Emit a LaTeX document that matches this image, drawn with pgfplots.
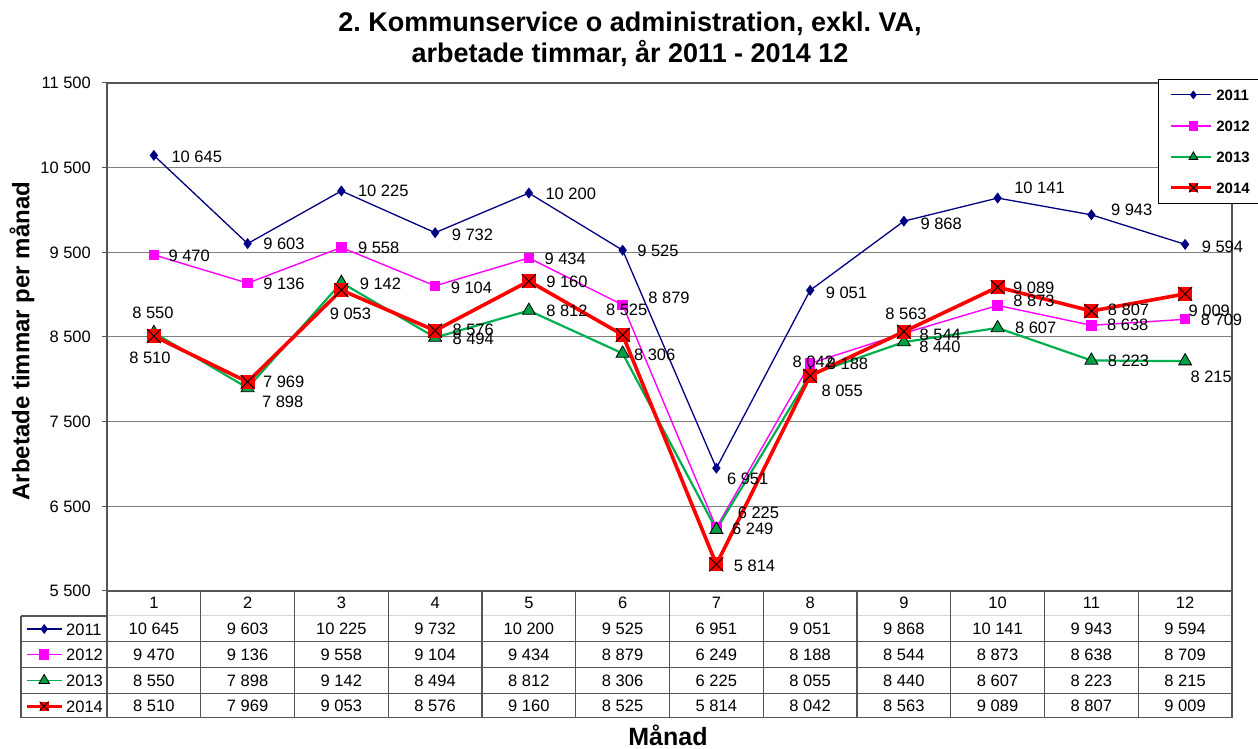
\documentclass[border=0pt]{standalone}
\usepackage{fontspec}
\setmainfont{Liberation Sans}
\usepackage{pgfplots}
\usepackage{pgfplotstable}
\pgfplotsset{compat=1.18}
\definecolor{c11}{RGB}{0,0,128}
\definecolor{c12}{RGB}{255,0,255}
\definecolor{c13}{RGB}{0,176,80}
\definecolor{c13f}{RGB}{0,160,70}
\definecolor{c14}{RGB}{255,0,0}
\definecolor{gridc}{RGB}{125,125,125}
\definecolor{tabc}{RGB}{85,85,85}
\definecolor{tabl}{RGB}{215,215,215}
\newcommand\fs[1]{\fontsize{#1}{#1}\selectfont}
\pgfkeys{/pgf/number format/.cd, 1000 sep={\ }, assume math mode=true}
\pgfdeclareplotmark{sqx}{%
  \pgfpathrectangle{\pgfpoint{-\pgfplotmarksize}{-\pgfplotmarksize}}{\pgfpoint{2\pgfplotmarksize}{2\pgfplotmarksize}}%
  \pgfsetfillcolor{red}\pgfusepath{fill}%
  \pgfsetstrokecolor{black}\pgfsetlinewidth{0.9pt}%
  \pgfpathmoveto{\pgfpoint{-\pgfplotmarksize}{-\pgfplotmarksize}}%
  \pgfpathlineto{\pgfpoint{\pgfplotmarksize}{\pgfplotmarksize}}%
  \pgfpathmoveto{\pgfpoint{-\pgfplotmarksize}{\pgfplotmarksize}}%
  \pgfpathlineto{\pgfpoint{\pgfplotmarksize}{-\pgfplotmarksize}}%
  \pgfusepath{stroke}}

\pgfplotstableread{
x y dx up
1 10645 17 -1
2 9603 15 0
3 10225 16 0
4 9732 16 -2
5 10200 16 -1
6 9525 14 -1
7 6951 10 -11
8 9051 15 -2
9 9868 16 -3
10 10141 16 10
11 9943 19 5
12 9594 16 -2
}\dataA
\pgfplotstableread{
x y dx up
1 9470 14 -1
2 9136 15 -1
3 9558 16 0
4 9104 15 -2
5 9434 15 -1
6 8879 25 7
7 6249 15 -1
8 8188 16 0
9 8544 15 -2
10 8873 15 5
11 8638 15 0
12 8709 15 -1
}\dataB
\pgfplotstableread{
x y dx up
1 8550 -22 20
2 7898 14 -14
3 9142 18 -1
4 8494 17 -1
5 8812 17 0
6 8306 11 -1
7 6225 21 17
8 8055 11 -16
9 8440 15 -5
10 8607 17 0
11 8223 16 0
12 8215 5 -16
}\dataC
\pgfplotstableread{
x y dx up
1 8510 -25 -22
2 7969 15 0
3 9053 -12 -24
4 8576 17 1
5 9160 17 -1
6 8525 -17 25
7 5814 17 -1
8 8042 -18 14
9 8563 -19 18
10 9089 15 -1
11 8807 16 1
12 9009 3 -17
}\dataD

\pgfplotsset{
  lbl/.style={
    visualization depends on={\thisrow{dx}\as\ldx},
    visualization depends on={\thisrow{up}\as\lup},
    nodes near coords, point meta=explicit,
    nodes near coords style={anchor=west, inner sep=0pt, text=black, font=\fs{16.5},
      xshift=\ldx pt, yshift=\lup pt}},
  s11/.style={c11, line width=1.3pt, mark=diamond*, mark options={fill=c11, draw=c11, solid}},
  s12/.style={c12, line width=1.4pt, mark=square*, mark options={fill=c12, draw=c12, solid}},
  s13/.style={c13, line width=2.2pt, mark=triangle*, mark options={fill=c13f, draw=black, line width=0.8pt, solid}},
  s14/.style={c14, line width=3.6pt, mark=sqx, mark options={solid}},
}

\newcommand\tabrow[2]{%
  \foreach \r in {0,...,11}{%
    \pgfmathsetmacro\cx{107+(\r+0.5)*93.75}%
    \node[font=\fs{16.5}, inner sep=0pt] at (\cx pt,#2 pt)
      {\pgfplotstablegetelem{\r}{y}\of#1\pgfmathprintnumber{\pgfplotsretval}};}}

\begin{document}
\frenchspacing
\begin{tikzpicture}
\useasboundingbox (0pt,0pt) rectangle (1258pt,749pt);
\begin{axis}[
  at={(107pt,158pt)}, anchor=south west, scale only axis,
  width=1125pt, height=508pt,
  xmin=0.5, xmax=12.5, ymin=5500, ymax=11500,
  ytick={5500,6500,...,11500}, xtick={1,...,12},
  scaled y ticks=false,
  ymajorgrids, grid style={gridc, line width=1pt},
  axis line style={tabc, line width=1.1pt},
  ytick pos=left, ytick align=outside, major tick length=5pt,
  ytick style={tabc, line width=1pt},
  xtick style={draw=none},
  yticklabel style={font=\fs{16.5}, inner sep=0pt, xshift=-11pt},
  xticklabel style={font=\fs{16.5}, inner sep=0pt, anchor=center, yshift=-12pt},
  clip=false,
  legend style={at={(0.9342,1.0079)}, anchor=north west, draw=black, line width=0.8pt,
    fill=white, inner xsep=11pt, inner ysep=10pt, font=\bfseries\fs{15},
    nodes={inner sep=0pt, text height=11pt, text depth=0pt},
    column sep=4pt, row sep=20pt},
  legend cell align=left,
  legend image code/.code={\path (0pt,0pt) -- (5pt,0pt);
    \draw[mark repeat=2,mark phase=2] plot coordinates {(5pt,0pt) (22.5pt,0pt) (40pt,0pt)};},
]
\addplot[s11, mark size=4.5pt, lbl, forget plot] table[x=x,y=y,meta=y]{\dataA};
\addplot[s12, mark size=4.5pt, lbl, forget plot] table[x=x,y=y,meta=y]{\dataB};
\addplot[s13, mark size=7.5pt, lbl, forget plot] table[x=x,y=y,meta=y]{\dataC};
\addplot[s14, mark size=7pt, lbl, forget plot] table[x=x,y=y,meta=y]{\dataD};
\addlegendimage{s11, line width=1.2pt, mark size=3.5pt}
\addlegendentry{2011}
\addlegendimage{s12, line width=1.4pt, mark size=4pt}
\addlegendentry{2012}
\addlegendimage{s13, line width=1.8pt, mark size=5pt}
\addlegendentry{2013}
\addlegendimage{s14, line width=3pt, mark size=4.5pt}
\addlegendentry{2014}
\end{axis}

\begin{axis}[
  at={(0pt,0pt)}, anchor=south west, scale only axis,
  width=1258pt, height=749pt, xmin=0, xmax=1, ymin=0, ymax=1, hide axis,
  legend style={at={(0.01987,0.16849)}, anchor=north west, draw=none, fill=none,
    inner sep=0pt, font=\fs{16.5},
    nodes={inner sep=0pt, text height=12pt, text depth=0pt},
    column sep=3pt, row sep=13.7pt},
  legend cell align=left,
  legend image code/.code={
    \draw[mark repeat=2,mark phase=2] plot coordinates {(0pt,0pt) (17.5pt,0pt) (35pt,0pt)};},
]
\addlegendimage{s11, line width=1.2pt, mark size=4pt}
\addlegendentry{2011}
\addlegendimage{s12, line width=1.4pt, mark size=4.5pt}
\addlegendentry{2012}
\addlegendimage{s13, line width=1.8pt, mark size=6pt}
\addlegendentry{2013}
\addlegendimage{s14, line width=3pt, mark size=4.5pt}
\addlegendentry{2014}
\end{axis}

% data table grid
\draw[tabl, line width=1pt] (107pt,133pt) -- (1232pt,133pt);
\draw[tabc, line width=1.1pt] (21pt,133pt) -- (107pt,133pt);
\foreach \yy in {107.3,81.3,55.7,31.3}{\draw[tabc, line width=1.1pt] (21pt,\yy pt) -- (1232pt,\yy pt);}
\draw[tabc, line width=1.1pt] (21pt,133pt) -- (21pt,31.3pt);
\foreach \k in {0,...,12}{\pgfmathsetmacro\xx{107+\k*93.75}
  \draw[tabc, line width=1.1pt] (\xx pt,158pt) -- (\xx pt,31.3pt);}
\tabrow{\dataA}{120.3}
\tabrow{\dataB}{94.3}
\tabrow{\dataC}{68.5}
\tabrow{\dataD}{43.5}

\node[font=\bfseries\fontsize{27}{30.5}\selectfont, align=center] at (630pt,709.5pt)
  {2. Kommunservice o administration, exkl. VA,\\arbetade timmar, år 2011 - 2014 12};
\node[rotate=90, font=\bfseries\fs{24}] at (22pt,408pt) {Arbetade timmar per månad};
\node[font=\bfseries\fs{25}, inner sep=0pt] at (668pt,14pt) {Månad};
\end{tikzpicture}
\end{document}
